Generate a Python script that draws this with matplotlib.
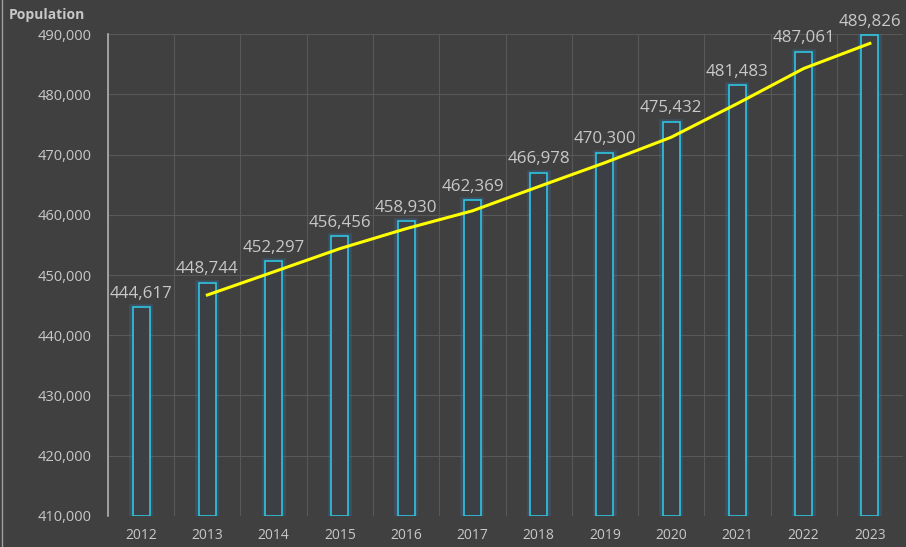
import matplotlib.pyplot as plt
import numpy as np

years = ['2012', '2013', '2014', '2015', '2016', '2017', '2018', '2019', '2020', '2021', '2022', '2023']
population = [444617, 448744, 452297, 456456, 458930, 462369, 466978, 470300, 475432, 481483, 487061, 489826]

bg = '#404040'
txt = '#c8c8c8'
cyan = '#2fc4e0'

fig = plt.figure(figsize=(9.06, 5.47), dpi=100, facecolor=bg)
ax = fig.add_axes([0.1192, 0.0567, 0.8775, 0.8811])
ax.set_facecolor(bg)

x = np.arange(len(years))
# soft glow behind the outlines
ax.bar(x, np.array(population) - 410000, bottom=410000, width=0.27, color='none',
       edgecolor='#3a6fa0', linewidth=4, alpha=0.35, zorder=2)
ax.bar(x, np.array(population) - 410000, bottom=410000, width=0.26, color='#3c3f44',
       edgecolor=cyan, linewidth=1.2, zorder=3)

# two-period moving average trendline
ma = [(population[i - 1] + population[i]) / 2 for i in range(1, len(population))]
ax.plot(x[1:], ma, color='#ffff00', linewidth=2.2, zorder=5)

for xi, v in zip(x, population):
    ax.annotate(f'{v:,}', (xi, v), xytext=(0, 4), textcoords='offset points',
                ha='center', va='bottom', color=txt, fontsize=12.2, family='Open Sans', zorder=6)

ax.set_xlim(-0.5, len(years) - 0.5)
ax.set_ylim(410000, 490000)
ax.set_yticks(np.arange(410000, 490001, 10000))
ax.set_yticklabels([f'{t:,}' for t in range(410000, 490001, 10000)])
ax.set_xticks(x)
ax.set_xticklabels(years)
ax.set_xticks(np.arange(-0.5, len(years)), minor=True)

ax.grid(axis='y', color='#585858', linewidth=0.8, zorder=0)
ax.grid(axis='x', which='minor', color='#585858', linewidth=0.8, zorder=0)
ax.tick_params(axis='both', which='both', length=0, colors=txt)
ax.tick_params(axis='x', pad=9, labelsize=10)
ax.tick_params(axis='y', pad=12, labelsize=10.5)
for lab in ax.get_xticklabels() + ax.get_yticklabels():
    lab.set_family('Open Sans')

for s in ['top', 'right', 'bottom']:
    ax.spines[s].set_visible(False)
ax.spines['left'].set_color('#b0b0b0')
ax.spines['left'].set_linewidth(1.2)

fig.text(0.010, 0.972, 'Population', color=txt, fontsize=10, fontweight='bold',
         family='Open Sans', ha='left', va='center')
fig.add_artist(plt.Line2D([0.0025, 0.0025], [0, 1], color='#a0a0a0', linewidth=1))

fig.savefig('out.png', dpi=100, facecolor=bg)
